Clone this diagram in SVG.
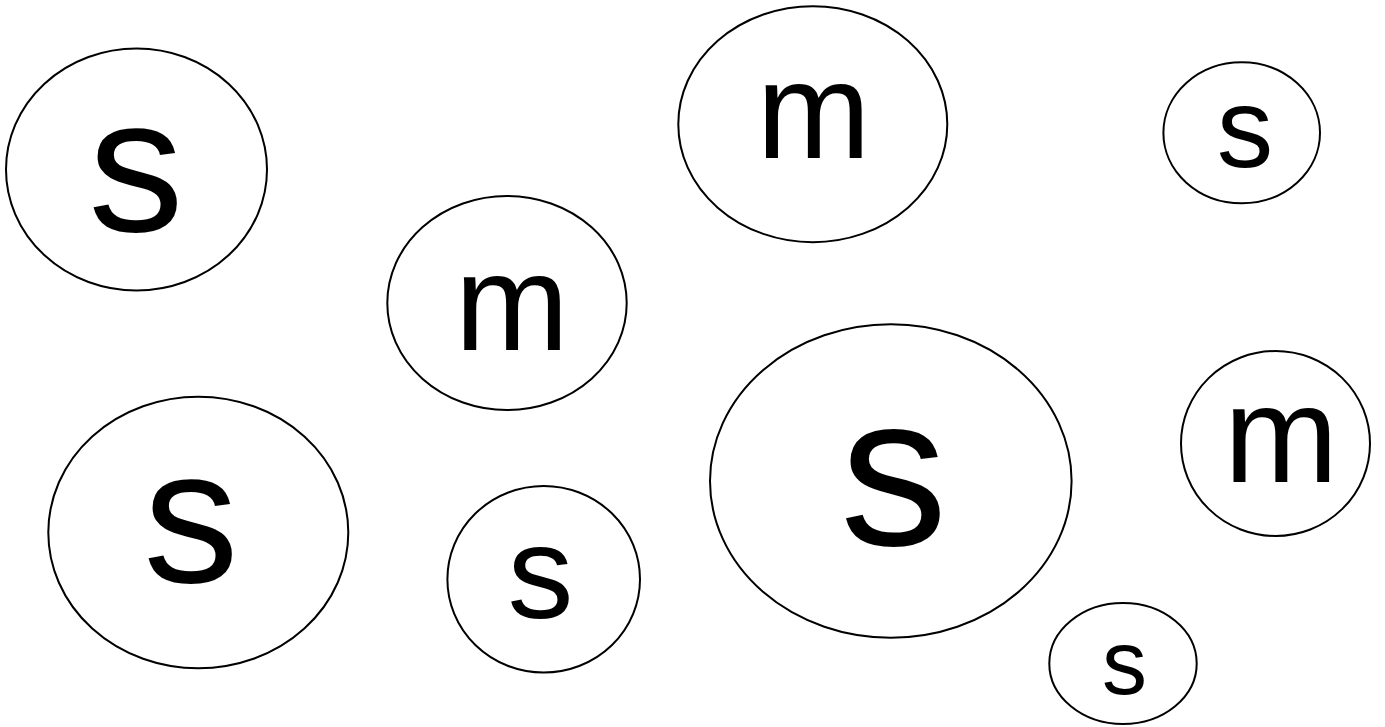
<svg xmlns="http://www.w3.org/2000/svg" width="1385" height="727" viewBox="0 0 1385 727">
<style>
.n ellipse{fill:#fff;stroke:#000;stroke-width:2}
.n text{font-family:"Liberation Sans",Arial,sans-serif;fill:#000;text-anchor:middle}
</style>
<rect width="1385" height="727" fill="#fff"/>
<g id="connectors"></g>
<g id="n1" class="n"><ellipse cx="136.5" cy="169.5" rx="130.5" ry="121"/><text x="136" y="230.5" font-size="191">s</text></g>
<g id="n2" class="n"><ellipse cx="812.8" cy="124.2" rx="134.5" ry="118"/><text x="813.5" y="158.3" font-size="137">m</text></g>
<g id="n3" class="n"><ellipse cx="1241.7" cy="132.8" rx="78.3" ry="70.5"/><text x="1245" y="167.4" font-size="113">s</text></g>
<g id="n4" class="n"><ellipse cx="507" cy="303" rx="119.7" ry="107"/><text x="511.7" y="350" font-size="137">m</text></g>
<g id="n5" class="n"><ellipse cx="198.3" cy="532.5" rx="150" ry="135.8"/><text x="191" y="582" font-size="191">s</text></g>
<g id="n6" class="n"><ellipse cx="543.7" cy="579.3" rx="96.3" ry="93.3"/><text x="540.5" y="618" font-size="132">s</text></g>
<g id="n7" class="n"><ellipse cx="890.8" cy="481" rx="180.8" ry="156.7"/><text x="893.7" y="545" font-size="215">s</text></g>
<g id="n8" class="n"><ellipse cx="1275.5" cy="443.5" rx="94.5" ry="92.5"/><text x="1281" y="482.3" font-size="137">m</text></g>
<g id="n9" class="n"><ellipse cx="1123" cy="663.5" rx="73.7" ry="60.5"/><text x="1124.5" y="693.7" font-size="90">s</text></g>
</svg>
